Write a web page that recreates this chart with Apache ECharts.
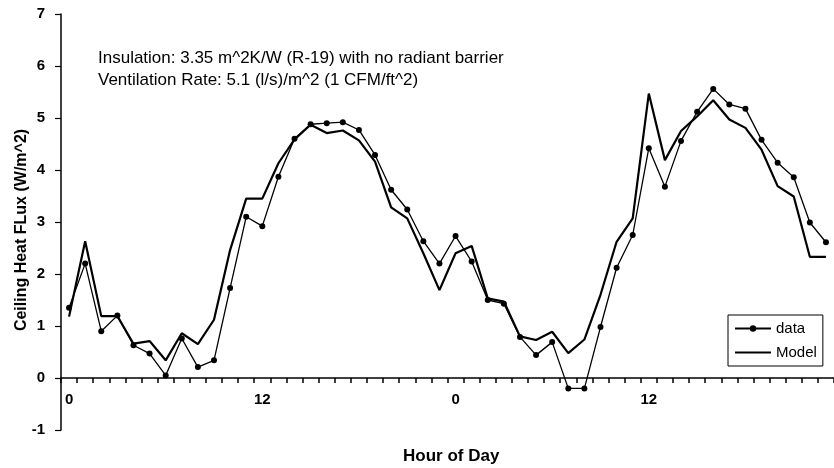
<!DOCTYPE html>
<html>
    <head>
        <meta charset="utf-8">
        <title>Ceiling Heat Flux</title>
        <script src="https://cdn.jsdelivr.net/npm/echarts@6/dist/echarts.min.js"></script>
        <style>
            html, body { margin: 0; padding: 0; background: #fff; }
        </style>
    </head>
    <body>
        <div id="chart1" style="width:834px;height:468px;"></div>
        <script type="text/javascript">
            // hour of day, two days
            var hours = [0,1,2,3,4,5,6,7,8,9,10,11,12,13,14,15,16,17,18,19,20,21,22,23,
                         0,1,2,3,4,5,6,7,8,9,10,11,12,13,14,15,16,17,18,19,20,21,22,23];
            // measured ceiling heat flux (W/m^2)
            var dataValues = [1.35,2.2,0.9,1.2,0.63,0.47,0.05,0.76,0.21,0.34,1.73,3.1,2.92,3.87,4.6,4.88,4.9,4.92,4.77,4.29,3.62,3.24,2.63,2.2,
                              2.73,2.24,1.5,1.43,0.79,0.44,0.69,-0.2,-0.2,0.98,2.12,2.75,4.42,3.68,4.56,5.12,5.56,5.26,5.18,4.58,4.14,3.86,2.99,2.61];
            // model prediction
            var modelValues = [1.18,2.63,1.19,1.19,0.66,0.71,0.34,0.86,0.65,1.12,2.46,3.45,3.45,4.13,4.59,4.87,4.71,4.76,4.57,4.16,3.28,3.07,2.4,1.69,
                               2.4,2.54,1.53,1.47,0.8,0.73,0.89,0.48,0.74,1.6,2.62,3.07,5.47,4.19,4.75,5.03,5.34,4.97,4.81,4.39,3.69,3.49,2.33,2.33];
            var noteLines = [
                'Insulation: 3.35 m^2K/W (R-19) with no radiant barrier',
                'Ventilation Rate: 5.1 (l/s)/m^2 (1 CFM/ft^2)'
            ];

            var font = 'Arial, "Liberation Sans", sans-serif';
            var myChart1 = echarts.init(document.getElementById('chart1'));

            // plot area: y=7 at 14px, y=-1 at 430px -> y=0 sits 52px above the bottom
            myChart1.setOption({
                animation: false,
                backgroundColor: '#fff',
                grid: { left: 61, right: -5, top: 14, bottom: 38 },
                legend: {
                    orient: 'vertical',
                    left: 728,
                    top: 315,
                    padding: [6, 6, 6, 6],
                    itemGap: 9,
                    itemWidth: 36,
                    itemHeight: 8,
                    backgroundColor: '#fff',
                    borderColor: '#000',
                    borderWidth: 1,
                    borderRadius: 0,
                    textStyle: { color: '#000', fontSize: 15, fontFamily: font },
                    data: [
                        { name: 'data' },
                        { name: 'Model', itemStyle: { opacity: 0 } }   // plain line, no marker
                    ]
                },
                xAxis: {
                    type: 'category',
                    data: hours,
                    boundaryGap: true,
                    position: 'bottom',
                    offset: -52,
                    axisLine: { show: true, onZero: false, lineStyle: { color: '#000', width: 1.5 } },
                    axisTick: { show: true, interval: 0, length: 5, lineStyle: { color: '#000', width: 1.5 } },
                    axisLabel: {
                        interval: 11,
                        margin: 14,
                        color: '#000',
                        fontSize: 15,
                        fontWeight: 'bold',
                        fontFamily: font
                    },
                    splitLine: { show: false }
                },
                yAxis: {
                    type: 'value',
                    min: -1,
                    max: 7,
                    interval: 1,
                    axisLine: { show: true, lineStyle: { color: '#000', width: 1.5 } },
                    axisTick: { show: true, length: 6, lineStyle: { color: '#000', width: 1.2 } },
                    axisLabel: { margin: 16, color: '#000', fontSize: 15, fontWeight: 'bold', fontFamily: font },
                    splitLine: { show: false }
                },
                graphic: [
                    { type: 'text', left: 98, top: 50, style: { text: noteLines[0], fill: '#000', font: '17px ' + font } },
                    { type: 'text', left: 98, top: 72, style: { text: noteLines[1], fill: '#000', font: '17px ' + font } },
                    { type: 'text', left: 403, top: 448, style: { text: 'Hour of Day', fill: '#000', font: 'bold 17px ' + font } },
                    {
                        type: 'text', x: 22, y: 230, rotation: Math.PI / 2,
                        style: { text: 'Ceiling Heat FLux (W/m^2)', fill: '#000', font: 'bold 16px ' + font,
                                 align: 'center', verticalAlign: 'middle' }
                    }
                ],
                series: [
                    {
                        name: 'data',
                        type: 'line',
                        data: dataValues,
                        symbol: 'circle',
                        symbolSize: 6,
                        itemStyle: { color: '#000' },
                        lineStyle: { color: '#000', width: 1.3 }
                    },
                    {
                        name: 'Model',
                        type: 'line',
                        data: modelValues,
                        symbol: 'none',
                        itemStyle: { color: '#000' },
                        lineStyle: { color: '#000', width: 2.2 }
                    }
                ]
            });
        </script>
    </body>
</html>
